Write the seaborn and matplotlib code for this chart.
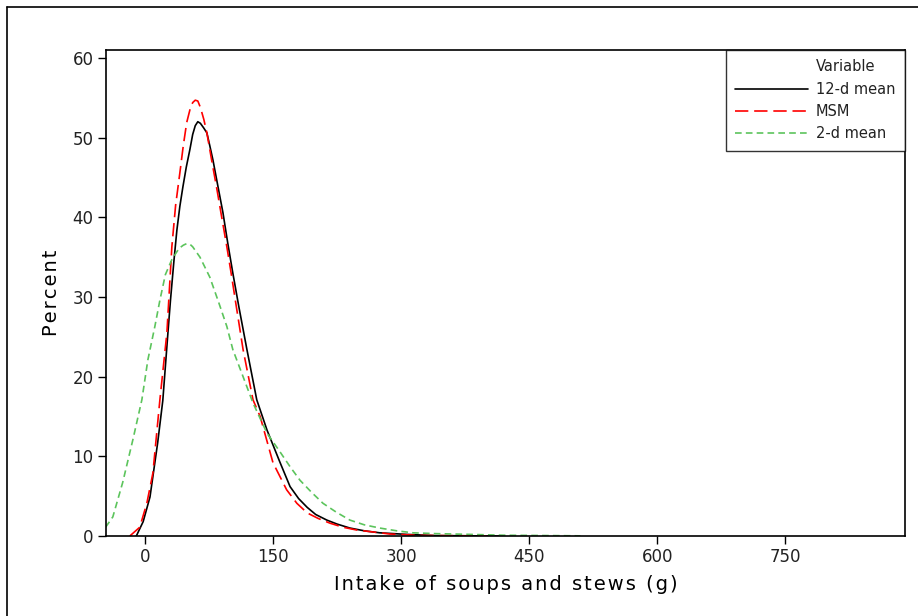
import numpy as np
import pandas as pd
import matplotlib
matplotlib.use("Agg")
import matplotlib.pyplot as plt
import seaborn as sns
from matplotlib.lines import Line2D

# ---- data ----
x_12d = [-10, -2, 6, 15, 21, 27, 30, 34, 37.5, 41, 44.5, 48.5, 52.7, 56, 59, 62, 65, 69, 72.6, 76, 79.7, 85, 91.4,
         97, 103, 110, 119.5, 131, 143, 158, 170, 180, 190, 200, 213, 225, 240, 257, 275, 307, 340, 420]
y_12d = [0, 1.8, 4.9, 11.7, 17, 25.5, 29.6, 34.5, 38.4, 41.4, 43.8, 46.3, 48.5, 50.4, 51.5, 52.0, 51.8, 51.2, 50.6, 49.0,
         47.2, 44.2, 40.6, 36.8, 33, 28.8, 23.4, 17.1, 13.3, 9.3, 6.2, 4.7, 3.6, 2.7, 2.0, 1.5, 1.0, 0.65, 0.4, 0.2, 0.05, 0]

x_msm = [-17.6, -6, 2.3, 9.4, 17.6, 25.8, 31.6, 36, 41, 45, 49, 53, 56, 59, 62, 65, 69, 72.6, 78, 84.4, 90, 96,
         101, 106.5, 115, 126.6, 135, 150, 166, 178, 190, 203, 217, 232, 248, 287, 320, 400]
y_msm = [0, 1.1, 4.1, 7.9, 17.1, 25.5, 36.3, 41.5, 45.6, 49.0, 51.9, 53.6, 54.4, 54.7, 54.6, 53.8, 52.3, 50.6, 47.3,
         43.5, 40.0, 36.3, 33.0, 29.2, 23.4, 17.1, 15.0, 9.2, 5.8, 4.1, 2.9, 2.2, 1.6, 1.1, 0.75, 0.25, 0.08, 0]

x_2d = [-46, -37.5, -26, -14, -3.5, 3.5, 11.7, 17.6, 24, 31.6, 40, 45, 49, 53, 56, 64.5, 76, 86.5, 96, 103, 115, 126.6,
        143, 158, 170, 181.6, 195, 208.6, 224, 240, 257, 275, 295, 314, 340, 361, 420, 510]
y_2d = [1.1, 2.4, 6.7, 12.1, 17.1, 22.1, 26.3, 29.6, 32.8, 34.7, 36.1, 36.5, 36.7, 36.6, 36.3, 35.0, 32.5, 29.3, 26.3,
        23.4, 20, 16.7, 12.9, 10.6, 8.7, 7.0, 5.5, 4.1, 3.0, 2.0, 1.4, 1.0, 0.65, 0.4, 0.3, 0.25, 0.1, 0.02]

labels = ["12-d mean", "MSM", "2-d mean"]
legend_title = "Variable"
x_ticks = [0, 150, 300, 450, 600, 750]
y_ticks = [0, 10, 20, 30, 40, 50, 60]
x_label = "Intake of soups and stews (g)"
y_label = "Percent"

df = pd.concat([
    pd.DataFrame({"x": x_12d, "y": y_12d, "Variable": labels[0]}),
    pd.DataFrame({"x": x_msm, "y": y_msm, "Variable": labels[1]}),
    pd.DataFrame({"x": x_2d, "y": y_2d, "Variable": labels[2]}),
], ignore_index=True)

sns.set_theme(style="white")
plt.rcParams["font.family"] = ["DejaVu Sans"]

fig = plt.figure(figsize=(9.18, 6.16), dpi=100)
ax = fig.add_axes([106/918, 1-536/616, (905-106)/918, (536-50)/616])

colors = {labels[0]: "#000000", labels[1]: "#FF0000", labels[2]: "#5CC45C"}
dashes = {labels[0]: "", labels[1]: (8, 3.5), labels[2]: (4, 2.5)}
sns.lineplot(data=df, x="x", y="y", hue="Variable", style="Variable", palette=colors,
             dashes=dashes, ax=ax, sort=False, estimator=None, linewidth=1.2, legend=False)

ax.set_xlim(-45.5, 890)
ax.set_ylim(0, 61)
ax.set_xticks(x_ticks)
ax.set_yticks(y_ticks)
ax.tick_params(axis="both", which="major", direction="out", length=6, width=1, color="black",
               labelsize=12, bottom=True, left=True, labelcolor="#222222", pad=3)
for s in ax.spines.values():
    s.set_color("black")
    s.set_linewidth(1.2)

hair = "\u200a"
ax.set_xlabel(hair.join(x_label), fontsize=14, labelpad=6, color="black")
ax.set_ylabel(hair.join(y_label), fontsize=14, labelpad=8, color="black")

handles = [
    Line2D([], [], color="none"),
    Line2D([], [], color="black", linewidth=1.2, linestyle="-"),
    Line2D([], [], color="#FF0000", linewidth=1.2, linestyle=(0, (8, 3.5))),
    Line2D([], [], color="#5CC45C", linewidth=1.2, linestyle=(0, (4, 2.5))),
]
leg = ax.legend(handles, [legend_title] + labels, loc="upper right", fontsize=10.5,
                frameon=True, fancybox=False, borderaxespad=0, handlelength=5.0, handletextpad=0.55,
                borderpad=0.65, labelspacing=0.5)
leg.get_frame().set_edgecolor("black")
leg.get_frame().set_linewidth(1.0)
for t in leg.get_texts():
    t.set_color("#222222")

# outer border of the figure
fig.add_artist(Line2D([7/918, 7/918], [0, 1-7/616], transform=fig.transFigure, color="black", lw=1.2))
fig.add_artist(Line2D([7/918, 1], [1-7/616, 1-7/616], transform=fig.transFigure, color="black", lw=1.2))

fig.savefig("out.png", dpi=100)
